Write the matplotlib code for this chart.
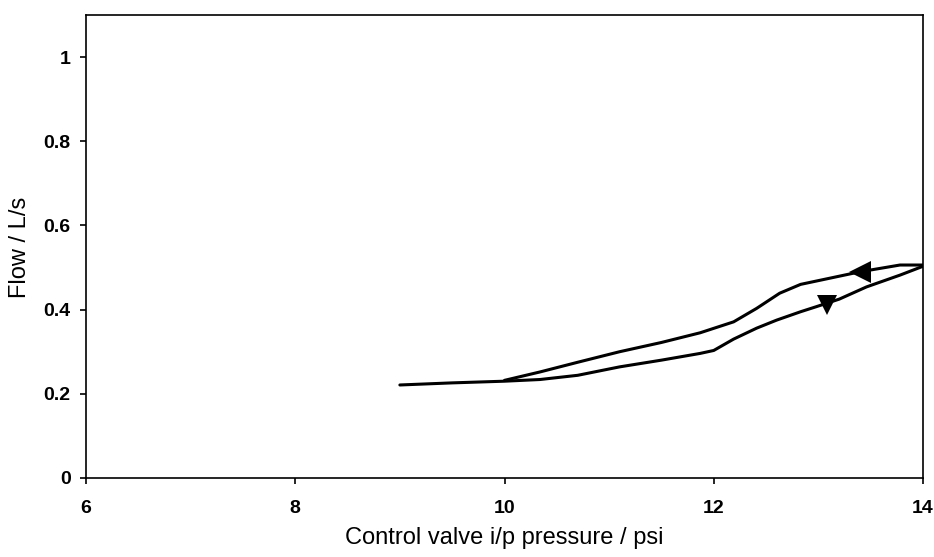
import numpy as np
import matplotlib.pyplot as plt

plt.rcParams['font.family'] = ['Liberation Sans', 'DejaVu Sans']

# increasing i/p pressure (lower branch)
p_up = [9.0, 9.5, 10.0, 10.34, 10.7, 11.1, 11.5, 11.87, 12.0, 12.19, 12.41, 12.6, 12.83, 12.98, 13.2, 13.46, 13.78, 14.0]
q_up = [0.221, 0.226, 0.230, 0.234, 0.244, 0.264, 0.280, 0.296, 0.303, 0.330, 0.356, 0.375, 0.395, 0.407, 0.425, 0.454, 0.482, 0.503]

# decreasing i/p pressure (upper branch)
p_down = [14.0, 13.78, 13.4, 13.02, 12.83, 12.63, 12.41, 12.19, 11.87, 11.5, 11.1, 10.7, 10.34, 10.0]
q_down = [0.506, 0.506, 0.490, 0.470, 0.460, 0.439, 0.403, 0.371, 0.345, 0.322, 0.300, 0.275, 0.252, 0.232]

# direction arrows
arrow_up = (13.08, 0.412)
arrow_down = (13.4, 0.490)

fig = plt.figure(figsize=(9.34, 5.57), dpi=100)
ax = fig.add_axes([86/934, 79/557, (923-86)/934, (478-15)/557])

ax.plot(p_up, q_up, color='black', lw=2.2, solid_capstyle='round', solid_joinstyle='round')
ax.plot(p_down, q_down, color='black', lw=2.2, solid_capstyle='round', solid_joinstyle='round')
ax.plot(*arrow_up, marker='v', color='black', markersize=14, markeredgewidth=0)
ax.plot(*arrow_down, marker='<', color='black', markersize=16, markeredgewidth=0)

ax.set_xlim(6, 14)
ax.set_ylim(0, 1.1)
ax.set_xticks([6, 8, 10, 12, 14])
ax.set_yticks([0, 0.2, 0.4, 0.6, 0.8, 1])
ax.set_yticklabels(['0', '0.2', '0.4', '0.6', '0.8', '1'])

for s in ax.spines.values():
    s.set_linewidth(1.2)
ax.tick_params(axis='both', direction='out', length=4, width=1.2, labelsize=14)
ax.tick_params(axis='x', pad=12)
ax.tick_params(axis='y', pad=7)
for lab in ax.get_xticklabels() + ax.get_yticklabels():
    lab.set_fontweight('bold')

fig.text(504/934, 1 - 538/557, 'Control valve i/p pressure / psi', fontsize=17,
         ha='center', va='center')
fig.text(20/934, 1 - 247/557, 'Flow / L/s', fontsize=17, rotation=90,
         ha='center', va='center')

fig.savefig('out.png', dpi=100)
